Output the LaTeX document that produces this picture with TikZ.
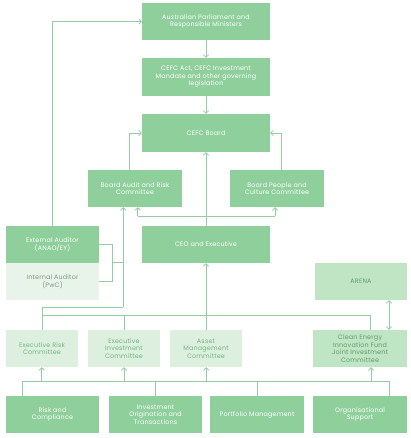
\documentclass[tikz,border=0pt]{standalone}
\usepackage{fontspec}
\setmainfont{Poppins}[LetterSpace=3]
\usetikzlibrary{arrows.meta}
\definecolor{dkg}{RGB}{143,207,156}
\definecolor{ltg}{RGB}{221,240,223}
\definecolor{xlg}{RGB}{232,244,233}
\definecolor{mdg}{RGB}{192,229,197}
\definecolor{lnc}{RGB}{150,204,163}
\definecolor{txg}{RGB}{112,184,124}
\definecolor{txgr}{RGB}{125,155,130}
\tikzset{
  bx/.style={rectangle, inner sep=1pt, align=center, font=\fontsize{6.4}{7.6}\selectfont, anchor=center},
  dk/.style={bx, fill=dkg, text=white},
  lt/.style={bx, fill=ltg, text=txg},
  xl/.style={bx, fill=xlg, text=txgr},
  md/.style={bx, fill=mdg, text=txg!85!black},
  ln/.style={draw=lnc, line width=0.8pt},
  ar/.style={ln, -{Straight Barb[length=2.6pt,width=5.5pt]}},
  dar/.style={ln, {Straight Barb[length=2.6pt,width=5.5pt]}-{Straight Barb[length=2.6pt,width=5.5pt]}}
}
\begin{document}
\begin{tikzpicture}[x=1pt,y=-1pt]
\useasboundingbox (0,0) rectangle (411,438);
% boxes
\node[dk, minimum width=128pt, minimum height=37pt] (parl) at (206,21.5) {Australian Parliament and\\Responsible Ministers};
\node[dk, minimum width=128pt, minimum height=38pt] (act) at (206,77) {CEFC Act, CEFC Investment\\Mandate and other governing\\legislation};
\node[dk, minimum width=128pt, minimum height=38pt] (board) at (206,133) {CEFC Board};
\node[dk, minimum width=94pt, minimum height=37pt] (bar) at (135,188.5) {Board Audit and Risk\\Committee};
\node[dk, minimum width=94pt, minimum height=37pt] (bpc) at (277,188.5) {Board People and\\Culture Committee};
\node[dk, minimum width=93pt, minimum height=37pt] (ext) at (52.5,244.5) {External Auditor\\(ANAO/EY)};
\node[xl, minimum width=93pt, minimum height=37pt] (int) at (52.5,281.5) {Internal Auditor\\(PwC)};
\node[dk, minimum width=128pt, minimum height=37pt] (ceo) at (206,244.5) {CEO and Executive};
\node[md, minimum width=92pt, minimum height=37pt] (arena) at (361,281.5) {ARENA};
\node[lt, minimum width=72pt, minimum height=37pt] (erc) at (42,348.5) {Executive Risk\\Committee};
\node[lt, minimum width=72pt, minimum height=37pt] (eic) at (124,348.5) {Executive\\Investment\\Committee};
\node[lt, minimum width=72pt, minimum height=37pt] (amc) at (206,348.5) {Asset\\Management\\Committee};
\node[md, minimum width=94pt, minimum height=37pt] (ceif) at (360,348.5) {Clean Energy\\Innovation Fund\\Joint Investment\\Committee};
\node[dk, minimum width=93pt, minimum height=37pt] (rc) at (52.5,414.5) {Risk and\\Compliance};
\node[dk, minimum width=93pt, minimum height=37pt] (ioc) at (155.5,414.5) {Investment\\Origination and\\Transactions};
\node[dk, minimum width=94pt, minimum height=37pt] (pm) at (257,414.5) {Portfolio Management};
\node[dk, minimum width=94pt, minimum height=37pt] (os) at (360,414.5) {Organisational\\Support};
% coordinates
\coordinate (jl) at (137.7,216);
\coordinate (jr) at (275,216);
\coordinate (br) at (112.3,262.7);
\coordinate (av) at (123.3,262.7);
\coordinate (ab) at (123.3,307.3);
\coordinate (al) at (42.3,307.3);
\coordinate (cl) at (42.3,315.5);
\coordinate (cr) at (370.7,315.5);
\coordinate (bl) at (22.7,381.5);
\coordinate (bR) at (389.3,381.5);
% top chain
\draw[ar] (ext.north -| 52.3,0) |- (parl.west);
\draw[ar] (parl.south) -- (act.north);
\draw[ar] (act.south) -- (board.north);
\draw[ar] (bar.north -| 129.3,0) |- (board.west);
\draw[ar] (bpc.north -| 281.7,0) |- (board.east);
\draw[ar] (ceo.north) -- (board.south);
% board committees
\draw[ln] (jl) -- (jr);
\draw[ar] (jl) -- (jl |- bar.south);
\draw[ar] (jr) -- (jr |- bpc.south);
% auditors
\draw[ln] (ext.east |- 0,244.5) -| (112.3,281.7) -- (int.east |- 0,281.7);
\draw[ln] (br) -- (av);
\draw[ar] (ab) -- (ab |- bar.south);
\draw[ln] (ab) -- (al) -- (erc.north -| al);
% CEO to committees
\draw[ar] (amc.north) -- (ceo.south);
\draw[ln] (cl) -- (cr) -- (ceif.north -| cr);
\draw[ln] (eic.north) -- (eic.north |- cl);
% ARENA
\draw[dar] (arena.south -| 389,0) -- (ceif.north -| 389,0);
% bottom
\draw[ln] (rc.north -| bl) -- (bl) -- (bR) -- (os.north -| bR);
\draw[ln] (ioc.north -| 155,0) -- (155,381.5);
\draw[ln] (pm.north -| 257.7,0) -- (257.7,381.5);
\draw[ar] (41.7,381.5) -- (erc.south -| 41.7,0);
\draw[ar] (124,381.5) -- (eic.south);
\draw[ar] (206.3,381.5) -- (amc.south -| 206.3,0);
\draw[ar] (371,381.5) -- (ceif.south -| 371,0);
\end{tikzpicture}
\end{document}
